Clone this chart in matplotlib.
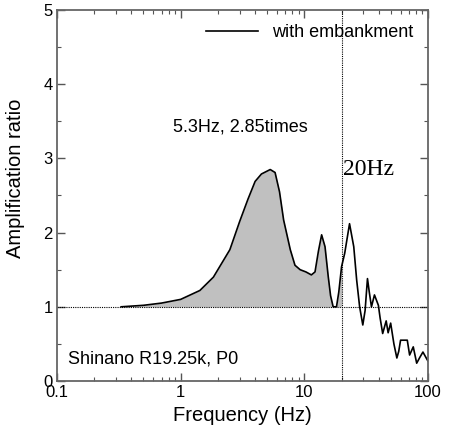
import matplotlib
matplotlib.use("Agg")
import matplotlib.pyplot as plt
from matplotlib.ticker import LogLocator, MultipleLocator, FixedLocator, FixedFormatter, NullFormatter
import numpy as np

plt.rcParams['font.family'] = ['Liberation Sans', 'DejaVu Sans']

freq = [0.33, 0.5, 0.7, 1.0, 1.43, 1.84, 2.5, 3.0, 3.5, 4.0, 4.5, 5.3, 5.8, 6.3, 6.8,
        7.7, 8.4, 9.25, 10.3, 11.4, 12.2, 13.0, 13.8, 14.7, 15.6, 16.3, 17.1, 18.2,
        19.0, 20.0, 21.2, 23.2, 25.1, 26.5, 28.0, 29.7, 31.0, 32.4, 33.5, 34.9, 36.9,
        39.7, 41.0, 43.0, 45.9, 47.6, 49.9, 53.0, 56.0, 58.0, 60.0, 68.0, 71.0, 76.0,
        81.0, 86.0, 91.0, 99.0, 100.0]
ratio = [1.0, 1.02, 1.05, 1.1, 1.22, 1.40, 1.77, 2.15, 2.45, 2.69, 2.79, 2.85, 2.81, 2.55, 2.17,
         1.77, 1.56, 1.50, 1.47, 1.43, 1.47, 1.75, 1.97, 1.81, 1.41, 1.15, 1.0, 1.0,
         1.2, 1.54, 1.72, 2.12, 1.81, 1.36, 1.0, 0.755, 0.95, 1.38, 1.2, 1.0, 1.16,
         1.02, 0.85, 0.64, 0.81, 0.65, 0.78, 0.5, 0.31, 0.4, 0.55, 0.55, 0.35, 0.46,
         0.24, 0.32, 0.39, 0.28, 0.27]

x_ticks = [0.1, 1, 10, 100]
x_tick_labels = ["0.1", "1", "10", "100"]
y_ticks = [0, 1, 2, 3, 4, 5]
cutoff = 20.0

f = np.array(freq)
r = np.array(ratio)

fig = plt.figure(figsize=(4.5, 4.37), dpi=100)
ax = fig.add_axes([57/450, 56/437, 371/450, 371/437])

mask = f <= cutoff
ax.fill_between(f[mask], 1.0, r[mask], where=r[mask] >= 1.0, color='#c0c0c0', lw=0, interpolate=True)
ax.plot(f, r, color='black', lw=1.2, label='with embankment')
ax.axhline(1.0, color='black', lw=0.8, ls=(0, (1, 1)))
ax.axvline(cutoff, color='black', lw=0.8, ls=(0, (1, 1)))

ax.set_xscale('log')
ax.set_xlim(0.1, 100)
ax.set_ylim(0, 5)
ax.xaxis.set_major_locator(FixedLocator(x_ticks))
ax.xaxis.set_major_formatter(FixedFormatter(x_tick_labels))
ax.xaxis.set_minor_locator(LogLocator(base=10, subs=np.arange(2, 10)))
ax.xaxis.set_minor_formatter(NullFormatter())
ax.set_yticks(y_ticks)
ax.yaxis.set_minor_locator(MultipleLocator(0.5))

for s in ax.spines.values():
    s.set_color('#666666')
    s.set_linewidth(1.3)
ax.tick_params(which='both', direction='in', top=True, right=True, labelsize=12, colors='#555555', labelcolor='black')
ax.tick_params(which='major', length=6, width=1.0, pad=3)
ax.tick_params(which='minor', length=3, width=0.8)

ax.set_xlabel('Frequency (Hz)', fontsize=14.5, labelpad=4)
ax.set_ylabel('Amplification ratio', fontsize=14.5)
ax.yaxis.set_label_coords(-0.086, 0.547)

leg = ax.legend(loc='upper right', frameon=False, fontsize=13, handlelength=2.9,
                bbox_to_anchor=(1.0, 1.0), borderaxespad=0.4)

ax.text((173-57)/371, (381-127)/371, '5.3Hz, 2.85times', transform=ax.transAxes,
        fontsize=13, va='center', ha='left')
ax.text((343-57)/371, (381-170)/371, '20Hz', transform=ax.transAxes,
        fontsize=17, va='center', ha='left', family=['Liberation Serif', 'DejaVu Serif'])
ax.text((68-57)/371, (381-359)/371, 'Shinano R19.25k, P0', transform=ax.transAxes,
        fontsize=13, va='center', ha='left')

fig.savefig('out.png', dpi=100)
